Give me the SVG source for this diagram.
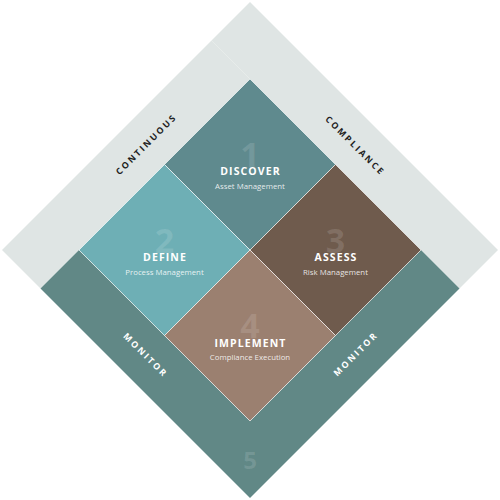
<svg xmlns="http://www.w3.org/2000/svg" width="500" height="500" viewBox="0 0 500 500">
  <style>
    .band { fill: #dfe5e4; }
    .mon { fill: #618886; }
    .tile { stroke: #ffffff; stroke-opacity: 0.75; stroke-width: 0.8; }
    .num { font-family: "Open Sans", "DejaVu Sans", sans-serif; font-weight: 700; fill: #ffffff; fill-opacity: 0.13; text-anchor: middle; }
    .title { font-family: "Open Sans", "DejaVu Sans", sans-serif; font-weight: 700; font-size: 10.5px; letter-spacing: 1.1px; fill: #ffffff; text-anchor: middle; }
    .sub { font-family: "Open Sans", "DejaVu Sans", sans-serif; font-size: 7.8px; fill: #ffffff; fill-opacity: 0.85; text-anchor: middle; }
    .blab { font-family: "Open Sans", "DejaVu Sans", sans-serif; font-weight: 700; font-size: 8.8px; letter-spacing: 2.2px; text-anchor: middle; }
  </style>
  <rect width="500" height="500" fill="#ffffff"/>
  <g id="band-continuous">
    <polygon class="band" points="2,250 211.5,40.5 250,79 79,250 40.5,288.5"/>
    <text class="blab" fill="#222222" transform="translate(145.5,145) rotate(-45)" x="1" y="3.2">CONTINUOUS</text>
  </g>
  <g id="band-compliance">
    <polygon class="band" points="211.5,40.5 250,2 498,250 459.5,288.5 421,250 250,79"/>
    <text class="blab" fill="#222222" transform="translate(354.5,145) rotate(45)" x="1" y="3.2">COMPLIANCE</text>
  </g>
  <g id="band-monitor">
    <polygon class="mon" points="40.5,288.5 79,250 250,421 421,250 459.5,288.5 250,498"/>
    <text class="blab" fill="#ffffff" transform="translate(145,354.5) rotate(45)" x="1" y="3.2">MONITOR</text>
    <text class="blab" fill="#ffffff" transform="translate(355,354.5) rotate(-45)" x="1" y="3.2">MONITOR</text>
    <text class="num" x="250" y="468.5" font-size="24">5</text>
  </g>
  <g id="discover">
    <polygon class="tile" fill="#5f8a8e" points="250,79 335.5,164.5 250,250 164.5,164.5"/>
    <text class="num" x="250" y="167" font-size="34">1</text>
    <text class="title" x="250.5" y="175">DISCOVER</text>
    <text class="sub" x="250" y="189">Asset Management</text>
  </g>
  <g id="define">
    <polygon class="tile" fill="#6eafb5" points="164.5,164.5 250,250 164.5,335.5 79,250"/>
    <text class="num" x="164.5" y="252.5" font-size="34">2</text>
    <text class="title" x="165" y="260.8">DEFINE</text>
    <text class="sub" x="164.5" y="274.5">Process Management</text>
  </g>
  <g id="assess">
    <polygon class="tile" fill="#6f5b4d" points="335.5,164.5 421,250 335.5,335.5 250,250"/>
    <text class="num" x="335.5" y="252.5" font-size="34">3</text>
    <text class="title" x="336" y="260.8">ASSESS</text>
    <text class="sub" x="335.5" y="274.5">Risk Management</text>
  </g>
  <g id="implement">
    <polygon class="tile" fill="#9b8070" points="250,250 335.5,335.5 250,421 164.5,335.5"/>
    <text class="num" x="250" y="338" font-size="34">4</text>
    <text class="title" x="250.5" y="346.5">IMPLEMENT</text>
    <text class="sub" x="250" y="360">Compliance Execution</text>
  </g>
  <g id="connectors"></g>
</svg>
